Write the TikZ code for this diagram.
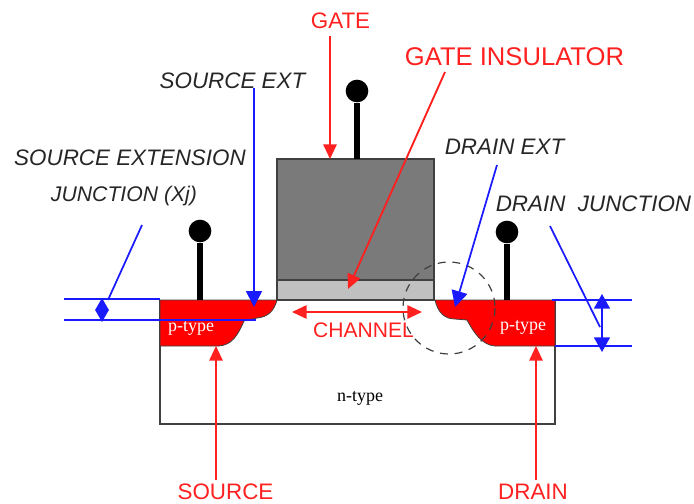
\documentclass[tikz,border=0pt]{standalone}
\usepackage{fontspec}
\setmainfont{Liberation Serif}
\setsansfont{Liberation Sans}
\usetikzlibrary{arrows.meta}
\definecolor{gategray}{HTML}{7A7A7A}
\definecolor{oxidegray}{HTML}{C0C0C0}
\definecolor{edgegray}{HTML}{404040}
\definecolor{labelred}{HTML}{FF2020}
\definecolor{leaderblue}{HTML}{1A1AFF}
\tikzset{
  darklabel/.style={font=\sffamily\itshape\fontsize{16.8}{18}\selectfont,text=black!85,inner sep=0pt},
  redlabel/.style={font=\sffamily\fontsize{16.8}{18}\selectfont,text=labelred,inner sep=0pt},
  redarrow/.style={draw=labelred,line width=1.4pt,-{Triangle[length=11pt,width=10pt]}},
  bluearrow/.style={draw=leaderblue,line width=1.3pt,-{Triangle[length=12pt,width=12pt]}},
  blueline/.style={draw=leaderblue,line width=1.3pt},
  ptypelabel/.style={font=\fontsize{13.5}{15}\selectfont,text=white,inner sep=0pt},
  contact/.style={circle,fill=black,inner sep=0pt,minimum size=17pt},
  stem/.style={line width=4.4pt,draw=black},
}
\begin{document}
\begin{tikzpicture}[x=0.75pt,y=0.75pt,yscale=-1,xscale=1]
    \useasboundingbox (0,0) rectangle (694,504);
    % device body
    \draw [edgegray,line width=0.9pt] (160,300) -- (160,424) -- (555,424) -- (555,300) ;
    \draw [fill=oxidegray,draw=edgegray,line width=0.9pt] (277,280) rectangle (434,300) ;
    \draw [fill=gategray,draw=edgegray,line width=0.9pt] (277,159) rectangle (434,280) ;
    \draw [fill=red,draw=edgegray,line width=0.6pt] (160,300) -- (277,300) .. controls (274,311) and (268,317) .. (257,318) -- (244,321) .. controls (238,335) and (232,345) .. (219,346) -- (160,346) -- cycle ;
    \draw [fill=red,draw=edgegray,line width=0.6pt] (435,300) .. controls (438,313) and (445,319) .. (455,319) -- (467,320) .. controls (474,333) and (482,345) .. (495,346) -- (555,346) -- (555,300) -- cycle ;
    \draw [edgegray,line width=0.9pt,dash pattern=on 6pt off 5pt] (449,308) circle [radius=46] ;
    % terminals
    \node (sourceball) [contact] at (200,231) {};
    \node (gateball) [contact] at (357,91) {};
    \node (drainball) [contact] at (507,232) {};
    \coordinate (sourcefoot) at (200,300);
    \coordinate (gatefoot) at (357,159);
    \coordinate (drainfoot) at (507,300);
    \draw [stem] (sourceball) -- (sourcefoot) ;
    \draw [stem] (gateball) -- (gatefoot) ;
    \draw [stem] (drainball) -- (drainfoot) ;
    % text
    \node (gatelabel) [redlabel] at (340.5,21) {GATE};
    \node (insulatorlabel) [redlabel,font=\sffamily\fontsize{19.2}{20}\selectfont] at (514.5,57) {GATE INSULATOR};
    \node (channellabel) [redlabel,font=\sffamily\fontsize{15.8}{18}\selectfont] at (363.5,330) {CHANNEL};
    \node (sourcelabel) [redlabel] at (225.5,492) {SOURCE};
    \node (drainlabel) [redlabel] at (533,492) {DRAIN};
    \node (sourceextlabel) [darklabel] at (232.5,81) {SOURCE EXT};
    \node (extensionlabel) [darklabel] at (130,158) {SOURCE EXTENSION};
    \node (xjlabel) [darklabel,font=\sffamily\itshape\fontsize{15.9}{18}\selectfont] at (124,196) {JUNCTION (Xj)};
    \node (drainextlabel) [darklabel] at (504.5,147) {DRAIN EXT};
    \node (junctionlabel) [darklabel] at (593.5,204) {DRAIN\ \ JUNCTION};
    \node (lefttype) [ptypelabel] at (191,328) {p-type};
    \node (righttype) [ptypelabel] at (523,327) {p-type};
    \node (ntype) [font=\fontsize{13.5}{15}\selectfont,inner sep=0pt] at (360,398) {n-type};
    % red arrows
    \coordinate (gatetail) at (330,36);
    \coordinate (gatetip) at (330,159);
    \coordinate (insulatortail) at (445,72);
    \coordinate (insulatortip) at (348,289);
    \coordinate (channelleft) at (292,312);
    \coordinate (channelright) at (422,312);
    \coordinate (sourcetail) at (216,480);
    \coordinate (sourcetip) at (216,346);
    \coordinate (draintail) at (536,480);
    \coordinate (draintip) at (536,346);
    \draw [redarrow] (gatetail) -- (gatetip) ;
    \draw [redarrow] (insulatortail) -- (insulatortip) ;
    \draw [redarrow,{Triangle[length=11pt,width=10pt]}-{Triangle[length=11pt,width=10pt]}] (channelleft) -- (channelright) ;
    \draw [redarrow] (sourcetail) -- (sourcetip) ;
    \draw [redarrow] (draintail) -- (draintip) ;
    % blue leaders
    \coordinate (exttail) at (254,88);
    \coordinate (exttip) at (254,307);
    \coordinate (drainexttail) at (497,165);
    \coordinate (drainexttip) at (455,307);
    \draw [bluearrow] (exttail) -- (exttip) ;
    \draw [bluearrow] (drainexttail) -- (drainexttip) ;
    \coordinate (lefttopa) at (64,299);
    \coordinate (lefttopb) at (160,299);
    \coordinate (leftlowa) at (64,320);
    \coordinate (leftlowb) at (256,320);
    \coordinate (righttopa) at (552,300);
    \coordinate (righttopb) at (632,300);
    \coordinate (rightlowa) at (555,346);
    \coordinate (rightlowb) at (632,346);
    \draw [blueline] (lefttopa) -- (lefttopb) ;
    \draw [blueline] (leftlowa) -- (leftlowb) ;
    \draw [blueline] (righttopa) -- (righttopb) ;
    \draw [blueline] (rightlowa) -- (rightlowb) ;
    \coordinate (xjtail) at (142,225);
    \coordinate (xjhead) at (108,300);
    \coordinate (junctail) at (550,226);
    \coordinate (junchead) at (600,327);
    \draw [blueline] (xjtail) -- (xjhead) ;
    \draw [blueline] (junctail) -- (junchead) ;
    \coordinate (xjtop) at (102,298);
    \coordinate (xjlow) at (102,322);
    \coordinate (depthtop) at (602,294);
    \coordinate (depthlow) at (602,352);
    \draw [bluearrow,{Triangle[length=9pt,width=10pt]}-{Triangle[length=9pt,width=10pt]}] (xjtop) -- (xjlow) ;
    \draw [bluearrow,{Triangle[length=11pt,width=12pt]}-{Triangle[length=11pt,width=12pt]}] (depthtop) -- (depthlow) ;
\end{tikzpicture}
\end{document}
